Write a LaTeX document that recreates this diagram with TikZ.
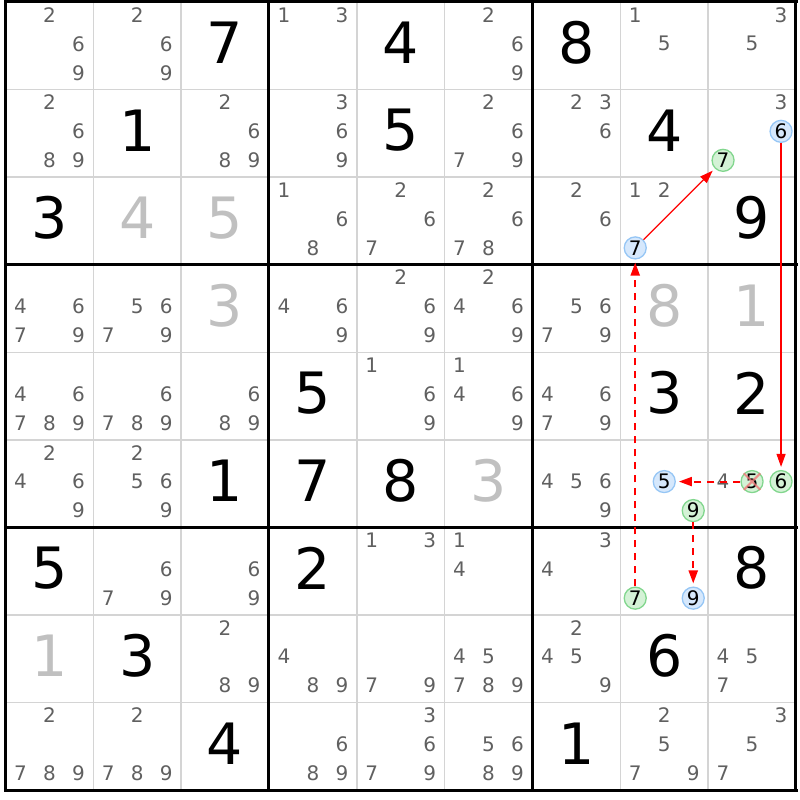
\documentclass[tikz,border=0pt]{standalone}
\usepackage{fontspec}
\setmainfont{DejaVu Sans}
\usetikzlibrary{arrows.meta}

\definecolor{gridgray}{RGB}{212,212,212}
\definecolor{candgray}{RGB}{96,96,96}
\definecolor{solvedgray}{RGB}{192,192,192}
\definecolor{onfill}{RGB}{214,232,252}
\definecolor{ondraw}{RGB}{150,198,245}
\definecolor{offfill}{RGB}{212,242,214}
\definecolor{offdraw}{RGB}{130,214,142}
\definecolor{crossred}{RGB}{240,120,120}
\definecolor{linkred}{RGB}{255,0,0}

\begin{document}
\begin{tikzpicture}[x=1pt,y=-1pt,
	thin line/.style={draw=gridgray,line width=1.4pt},
	box line/.style={draw=black,line width=3pt,line cap=rect},
	given/.style={inner sep=0pt,font=\fontsize{57}{57}\selectfont,yshift=3pt},
	solved/.style={given,text=solvedgray},
	cand/.style={inner sep=0pt,text=candgray,font=\fontsize{20}{20}\selectfont},
	on/.style={circle,minimum size=22pt,inner sep=0pt,fill=onfill,draw=ondraw,line width=1.3pt,font=\fontsize{20}{20}\selectfont},
	off/.style={on,fill=offfill,draw=offdraw},
	strong link/.style={color=linkred,line width=1.2pt,-{Triangle[length=13pt,width=9pt]},shorten >=3pt},
	weak link/.style={strong link,line width=2pt,dash pattern=on 7pt off 6pt}]
	\useasboundingbox (0,0) rectangle (800,800);
	
	\foreach \r in {1,...,9}
		\foreach \c in {1,...,9}
			\coordinate (cell-\r-\c) at ({5.5+(\c-0.5)*87.83},{2+(\r-0.5)*87.56});
	
	\foreach \i in {0,...,9}{
		\draw[thin line] ({5.5+\i*87.83},2) -- ({5.5+\i*87.83},790);
		\draw[thin line] (5.5,{2+\i*87.56}) -- (796,{2+\i*87.56});
	}
	\foreach \i in {0,3,6,9}{
		\draw[box line] ({5.5+\i*87.83},2) -- ({5.5+\i*87.83},790);
		\draw[box line] (5.5,{2+\i*87.56}) -- (796,{2+\i*87.56});
	}
	
	% given and solved digits
	\foreach \r/\c/\d in {1/3/7,1/5/4,1/7/8,2/2/1,2/5/5,2/8/4,3/1/3,3/9/9,5/4/5,5/8/3,5/9/2,
		6/3/1,6/4/7,6/5/8,7/1/5,7/4/2,7/9/8,8/2/3,8/8/6,9/3/4,9/7/1}
		\node[given] (d-\r-\c) at (cell-\r-\c) {\d};
	\foreach \r/\c/\d in {3/2/4,3/3/5,4/3/3,4/8/8,4/9/1,6/6/3,8/1/1}
		\node[solved] (d-\r-\c) at (cell-\r-\c) {\d};
	
	% pencil marks
	\foreach \r/\c/\ks in {1/1/{2,6,9},1/2/{2,6,9},1/4/{1,3},1/6/{2,6,9},1/8/{1,5},1/9/{3,5},
		2/1/{2,6,8,9},2/3/{2,6,8,9},2/4/{3,6,9},2/6/{2,6,7,9},2/7/{2,3,6},2/9/{3},
		3/4/{1,6,8},3/5/{2,6,7},3/6/{2,6,7,8},3/7/{2,6},3/8/{1,2},
		4/1/{4,6,7,9},4/2/{5,6,7,9},4/4/{4,6,9},4/5/{2,6,9},4/6/{2,4,6,9},4/7/{5,6,7,9},
		5/1/{4,6,7,8,9},5/2/{6,7,8,9},5/3/{6,8,9},5/5/{1,6,9},5/6/{1,4,6,9},5/7/{4,6,7,9},
		6/1/{2,4,6,9},6/2/{2,5,6,9},6/7/{4,5,6,9},6/9/{4},
		7/2/{6,7,9},7/3/{6,9},7/5/{1,3},7/6/{1,4},7/7/{3,4},
		8/3/{2,8,9},8/4/{4,8,9},8/5/{7,9},8/6/{4,5,7,8,9},8/7/{2,4,5,9},8/9/{4,5,7},
		9/1/{2,7,8,9},9/2/{2,7,8,9},9/4/{6,8,9},9/5/{3,6,7,9},9/6/{5,6,8,9},9/8/{2,5,7,9},9/9/{3,5,7}}
		\foreach \k in \ks {
			\pgfmathsetmacro\dx{(mod(\k-1,3)-1)*29}
			\pgfmathsetmacro\dy{(floor((\k-1)/3)-1)*29-2}
			\node[cand] (c-\r-\c-\k) at ([shift={(\dx,\dy)}]cell-\r-\c) {\k};
		}
	
	% chain
	\node[on] (b-2-9-6) at ([shift={(29,-2)}]cell-2-9) {6};
	\node[off] (g-2-9-7) at ([shift={(-29,27)}]cell-2-9) {7};
	\node[on] (b-3-8-7) at ([shift={(-29,27)}]cell-3-8) {7};
	\node[on] (b-6-8-5) at ([shift={(0,-2)}]cell-6-8) {5};
	\node[off] (g-6-8-9) at ([shift={(29,27)}]cell-6-8) {9};
	\node[off] (g-6-9-5) at ([shift={(0,-2)}]cell-6-9) {5};
	\node[off] (g-6-9-6) at ([shift={(29,-2)}]cell-6-9) {6};
	\node[off] (g-7-8-7) at ([shift={(-29,27)}]cell-7-8) {7};
	\node[on] (b-7-8-9) at ([shift={(29,27)}]cell-7-8) {9};
	\draw[crossred,line width=2pt,opacity=0.8] (g-6-9-5.north west) -- (g-6-9-5.south east) (g-6-9-5.north east) -- (g-6-9-5.south west);
	
	\draw[strong link] (b-3-8-7) -- (g-2-9-7);
	\draw[strong link] (b-2-9-6) -- (g-6-9-6);
	\draw[weak link] (g-6-9-5) -- (b-6-8-5);
	\draw[weak link] (g-6-8-9) -- (b-7-8-9);
	\draw[weak link] (g-7-8-7) -- (b-3-8-7);
\end{tikzpicture}
\end{document}
